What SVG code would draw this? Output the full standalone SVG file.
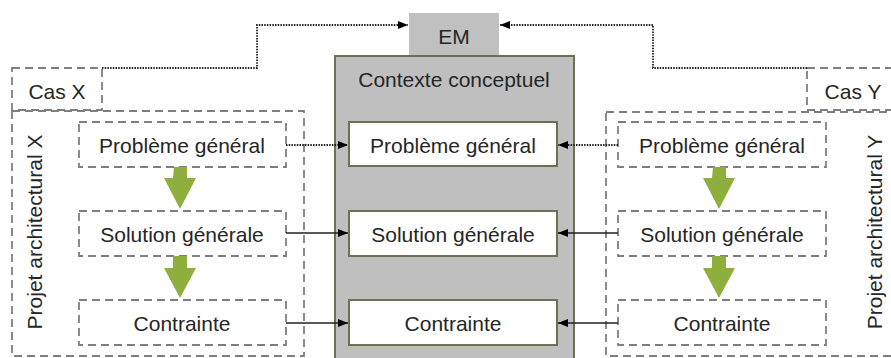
<svg xmlns="http://www.w3.org/2000/svg" width="891" height="358" viewBox="0 0 891 358">
<defs>
<marker id="ah" markerWidth="10" markerHeight="8" refX="10" refY="4" orient="auto" markerUnits="userSpaceOnUse">
<path d="M0,0 L10,4 L0,8 Z" fill="#000"/>
</marker>
<style>
.t{font-family:"Liberation Sans",Arial,sans-serif;font-size:21px;fill:#262626;text-anchor:middle;dominant-baseline:central}
.dash{fill:#fff;stroke:#7f7f7f;stroke-width:1.8;stroke-dasharray:8,5}
.wbox{fill:#fff;stroke:#6b7152;stroke-width:2}
.dot{fill:none;stroke:#222;stroke-width:1.8;stroke-dasharray:1.5,1.2}
.sol{fill:none;stroke:#222;stroke-width:1.4}
.green{fill:#8eae3e}
</style>
</defs>
<rect width="891" height="358" fill="#fff"/>

<g id="casX">
<rect class="dash" x="12" y="68" width="90" height="42"/>
<text class="t" x="57" y="91">Cas X</text>
</g>
<g id="projetX">
<rect class="dash" x="12" y="111" width="292" height="245"/>
<text class="t" transform="translate(34,232) rotate(-90)">Projet architectural X</text>
</g>
<g id="casY">
<rect class="dash" x="807" y="68" width="100" height="42"/>
<text class="t" x="853" y="91">Cas Y</text>
</g>
<g id="projetY">
<rect class="dash" x="606" y="112" width="300" height="244"/>
<text class="t" transform="translate(874,232) rotate(-90)">Projet architectural Y</text>
</g>

<g id="em">
<rect x="409" y="13" width="90" height="43" fill="#c0c0c0"/>
<text class="t" x="454" y="36">EM</text>
</g>
<g id="contexte">
<rect x="335" y="56" width="239" height="310" fill="#bfbfbf" stroke="#6b7152" stroke-width="2"/>
<text class="t" x="454" y="79">Contexte conceptuel</text>
</g>

<g id="pgX"><rect class="dash" x="79" y="122" width="207" height="45"/><text class="t" x="182" y="145">Problème général</text></g>
<g id="sgX"><rect class="dash" x="79" y="211" width="207" height="45"/><text class="t" x="182" y="234">Solution générale</text></g>
<g id="cX"><rect class="dash" x="79" y="300" width="207" height="45"/><text class="t" x="182" y="323">Contrainte</text></g>

<g id="pgC"><rect class="wbox" x="349" y="122" width="208" height="44"/><text class="t" x="453" y="145">Problème général</text></g>
<g id="sgC"><rect class="wbox" x="349" y="211" width="208" height="45"/><text class="t" x="453" y="234">Solution générale</text></g>
<g id="cC"><rect class="wbox" x="349" y="300" width="208" height="45"/><text class="t" x="453" y="323">Contrainte</text></g>

<g id="pgY"><rect class="dash" x="618" y="122" width="208" height="45"/><text class="t" x="722" y="145">Problème général</text></g>
<g id="sgY"><rect class="dash" x="618" y="211" width="208" height="45"/><text class="t" x="722" y="234">Solution générale</text></g>
<g id="cY"><rect class="dash" x="618" y="300" width="208" height="45"/><text class="t" x="722" y="323">Contrainte</text></g>

<g id="connectors">
<path class="dot" d="M102,68 H257 V25 H408" marker-end="url(#ah)"/>
<path class="dot" d="M807,68 H653 V25 H500" marker-end="url(#ah)"/>
<path class="dot" d="M286,145 H348" marker-end="url(#ah)"/>
<path class="dot" d="M618,145 H558" marker-end="url(#ah)"/>
<path class="sol" d="M286,233 H348" marker-end="url(#ah)"/>
<path class="sol" d="M286,323 H348" marker-end="url(#ah)"/>
<path class="sol" d="M618,233 H558" marker-end="url(#ah)"/>
<path class="sol" d="M618,323 H558" marker-end="url(#ah)"/>
<path class="green" d="M174,167 H187 V178 H196 L180,209 L164,178 H173 Z"/>
<path class="green" d="M173,256 H187 V268 H196 L180,298 L164,268 H173 Z"/>
<path class="green" d="M713,167 H726 V178 H735 L719,209 L703,178 H712 Z"/>
<path class="green" d="M712,256 H726 V268 H735 L719,298 L703,268 H712 Z"/>
</g>
</svg>
